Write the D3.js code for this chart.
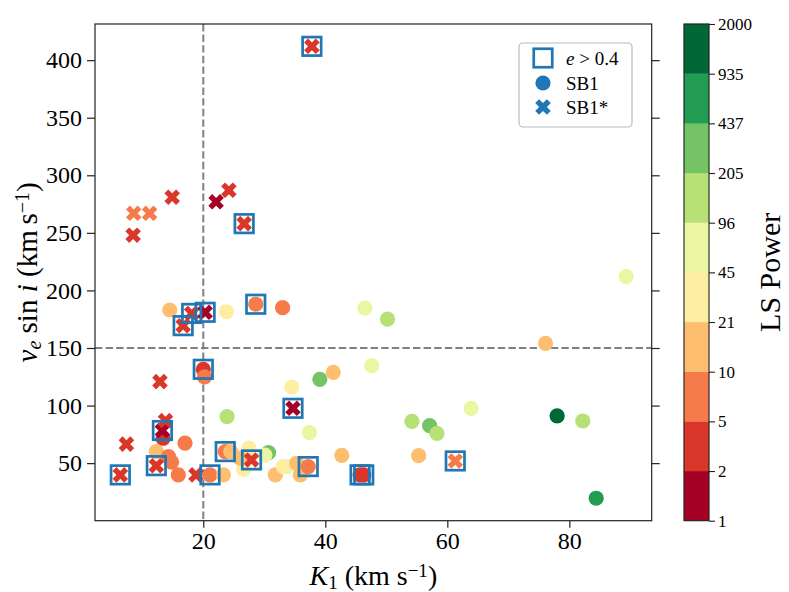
<!DOCTYPE html>
<html><head><meta charset="utf-8">
<script src="https://cdn.jsdelivr.net/npm/d3@7"></script>
<style>
body{margin:0;background:#fff;}
svg{display:block;}
text{font-family:"Liberation Serif","Times New Roman",serif;fill:#000;}
</style></head>
<body>
<svg id="chart" width="789" height="592"></svg>
<script>
// ---- Data ----
// SB1 (circles)
const sb1K     = [20.0,20.2,14.5,28.6,33.0,23.8,46.5,50.2,89.3,76.1,34.5,47.6,41.3,39.1,23.9,37.4,63.9,54.2,57.1,58.3,78.0,82.2,84.4,13.4,17.0,12.3,14.3,14.8,15.9,21.1,23.3,23.6,24.5,27.5,26.6,26.0,30.7,30.1,31.8,33.7,33.1,35.9,35.3,37.2,42.7,55.3,45.7,46.3];
const sb1V     = [131.5,125,183,188,185,181.5,184.7,175,212,154,116,134.6,128.9,122.8,90.5,76.5,97.6,86.3,82.5,75.9,91,86.6,19.5,71.6,67.3,60,55.7,50.8,39.8,39.8,39.8,60,60,63,44.5,54.3,59.1,57,39.8,47,47,39.8,49.9,47,56.8,56.5,39.8,39.8];
const sb1Power = [3,7,15,7,7,30,70,150,70,15,30,70,15,300,150,70,70,150,300,150,1500,150,700,3,7,15,7,7,7,7,15,7,15,30,30,15,300,70,15,70,30,15,15,7,15,15,3,3];
const sb1Ecc   = [1,0,0,1,0,0,0,0,0,0,0,0,0,0,0,0,0,0,0,0,0,0,0,0,0,0,0,0,0,1,0,1,0,0,0,0,0,0,0,0,0,0,0,1,0,0,1,1];
// SB1* (crosses)
const sb1sK     = [37.8,22.1,24.2,14.9,8.5,8.6,11.2,26.7,16.7,18.1,20.3,12.9,34.7,13.3,13.8,7.4,12.3,6.4,18.8,61.3,27.9];
const sb1sV     = [412,277,287,281,248,267,267,258,169.4,180,181,120.8,97.6,78.3,87,66.5,47.8,39.8,39.8,51.9,52.8];
const sb1sPower = [3,1.5,3,3,3,7,7,3,3,3,1.5,3,1.5,1.5,3,3,3,3,3,7,3];
const sb1sEcc   = [1,0,0,0,0,0,0,1,1,1,1,0,1,1,0,0,1,1,0,1,1];
// Colour bar boundaries (LS Power)
const lsBounds = [1,2,5,10,21,45,96,205,437,935,2000];
const xTicks = [20,40,60,80];
const yTicks = [50,100,150,200,250,300,350,400];
const xRef = 20, yRef = 150;

// ---- Layout ----
const svg = d3.select("#chart");
const L = 95, R = 651.7, T = 24, B = 520.7;
const x = d3.scaleLinear().domain([2.25, 93.5]).range([L, R]);
const y = d3.scaleLinear().domain([0, 431.4]).range([B, T]);

const brewer = ["#a50026","#d73027","#f46d43","#fdae61","#fee08b","#ffffbf","#d9ef8b","#a6d96a","#66bd63","#1a9850","#006837"];
const cmap = d3.scaleLinear().domain(d3.range(11).map(i => i/10)).range(brewer).interpolate(d3.interpolateRgb);
const binColors = d3.range(10).map(i => cmap(i/9));
const color = d3.scaleThreshold().domain(lsBounds.slice(1, -1)).range(binColors);

svg.append("defs").append("clipPath").attr("id","clip")
  .append("rect").attr("x",L).attr("y",T).attr("width",R-L).attr("height",B-T);

// Reference dashed lines
const g = svg.append("g").attr("clip-path","url(#clip)");
g.append("line").attr("x1",x(xRef)).attr("x2",x(xRef)).attr("y1",T).attr("y2",B)
  .attr("stroke","#808080").attr("stroke-width",2).attr("stroke-dasharray","7.4,3.2");
g.append("line").attr("x1",L).attr("x2",R).attr("y1",y(yRef)).attr("y2",y(yRef))
  .attr("stroke","#808080").attr("stroke-width",2).attr("stroke-dasharray","7.4,3.2");

// X marker path (matplotlib filled 'X')
function xPath(size){
  const pts = [[-1,-3],[1,-3],[1,-1],[3,-1],[3,1],[1,1],[1,3],[-1,3],[-1,1],[-3,1],[-3,-1],[-1,-1]];
  const c = Math.SQRT1_2, s = size/6;
  const p = d3.path();
  pts.forEach((q,i) => {
    const px = (q[0]*c - q[1]*c)*s, py = (q[0]*c + q[1]*c)*s;
    if(i===0) p.moveTo(px,py); else p.lineTo(px,py);
  });
  p.closePath();
  return p.toString();
}
const XSIZE = 16.5, CR = 7.6, SQ = 18.5;

const circ = sb1K.map((k,i) => ({k, v:sb1V[i], p:sb1Power[i], e:sb1Ecc[i]}));
const crs  = sb1sK.map((k,i) => ({k, v:sb1sV[i], p:sb1sPower[i], e:sb1sEcc[i]}));

g.selectAll("circle.sb1").data(circ).join("circle").attr("class","sb1")
  .attr("cx", d => x(d.k)).attr("cy", d => y(d.v)).attr("r", CR)
  .attr("fill", d => color(d.p));
g.selectAll("path.sb1s").data(crs).join("path").attr("class","sb1s")
  .attr("d", xPath(XSIZE))
  .attr("transform", d => `translate(${x(d.k)},${y(d.v)})`)
  .attr("fill", d => color(d.p));
const ecc = circ.filter(d => d.e).concat(crs.filter(d => d.e));
g.selectAll("rect.ecc").data(ecc).join("rect").attr("class","ecc")
  .attr("x", d => x(d.k)-SQ/2).attr("y", d => y(d.v)-SQ/2)
  .attr("width", SQ).attr("height", SQ)
  .attr("fill","none").attr("stroke","#1f77b4").attr("stroke-width",2.7);

// Axes
const FONT = '"Liberation Serif",serif';
const xAxis = svg.append("g").attr("transform",`translate(0,${B})`)
  .call(d3.axisBottom(x).tickValues(xTicks).tickSize(7).tickPadding(4).tickFormat(d3.format("d")));
const yAxis = svg.append("g").attr("transform",`translate(${L},0)`)
  .call(d3.axisLeft(y).tickValues(yTicks).tickSize(8).tickPadding(5).tickFormat(d3.format("d")));
const yAxisR = svg.append("g").attr("transform",`translate(${R},0)`)
  .call(d3.axisRight(y).tickValues(yTicks).tickSize(8).tickFormat(""));
[xAxis,yAxis,yAxisR].forEach(a => {
  a.attr("font-family", FONT);
  a.select(".domain").remove();
  a.selectAll(".tick line").attr("stroke","#222").attr("stroke-width",1.2);
  a.selectAll(".tick text").style("font-family",FONT).style("font-size","24px").attr("fill","#000");
});
svg.append("rect").attr("x",L).attr("y",T).attr("width",R-L).attr("height",B-T)
  .attr("fill","none").attr("stroke","#222").attr("stroke-width",1.2);

// Axis labels
const xl = svg.append("text").attr("x",(L+R)/2).attr("y",585).attr("text-anchor","middle").style("font-size","28px");
xl.append("tspan").attr("font-style","italic").text("K");
xl.append("tspan").attr("baseline-shift","-22%").style("font-size","19px").text("1");
xl.append("tspan").text(" (km s");
xl.append("tspan").attr("baseline-shift","42%").style("font-size","19px").text("\u22121");
xl.append("tspan").text(")");

const yl = svg.append("text").attr("transform",`translate(37,${(T+B)/2}) rotate(-90)`).attr("text-anchor","middle").style("font-size","29px");
yl.append("tspan").attr("font-style","italic").text("v");
yl.append("tspan").attr("font-style","italic").attr("baseline-shift","-22%").style("font-size","20px").text("e");
yl.append("tspan").text(" sin ");
yl.append("tspan").attr("font-style","italic").text("i");
yl.append("tspan").text(" (km\u2009s");
yl.append("tspan").attr("baseline-shift","42%").style("font-size","20px").text("\u22121");
yl.append("tspan").text(")");

// Legend
const lg = svg.append("g");
lg.append("rect").attr("x",519).attr("y",43).attr("width",113).attr("height",84).attr("rx",4)
  .attr("fill","#fff").attr("fill-opacity",0.8).attr("stroke","#bbb").attr("stroke-width",1.2);
const legY = [58, 83, 107], legX = 543, legTX = 566;
lg.append("rect").attr("x",legX-SQ/2).attr("y",legY[0]-SQ/2).attr("width",SQ).attr("height",SQ)
  .attr("fill","none").attr("stroke","#1f77b4").attr("stroke-width",2.7);
lg.append("circle").attr("cx",legX).attr("cy",legY[1]).attr("r",CR).attr("fill","#1f77b4");
lg.append("path").attr("d",xPath(XSIZE)).attr("transform",`translate(${legX},${legY[2]})`).attr("fill","#1f77b4");
const t1 = lg.append("text").attr("x",legTX).attr("y",legY[0]+6.5).style("font-size","19px");
t1.append("tspan").attr("font-style","italic").text("e");
t1.append("tspan").text(" > 0.4");
lg.append("text").attr("x",legTX).attr("y",legY[1]+6.5).style("font-size","19px").text("SB1");
lg.append("text").attr("x",legTX).attr("y",legY[2]+6.5).style("font-size","19px").text("SB1*");

// Colour bar
const cbL = 684, cbW = 25;
const cbY = d3.scalePoint().domain(lsBounds).range([B, T]);
const cb = svg.append("g");
cb.selectAll("rect.bin").data(d3.range(10)).join("rect").attr("class","bin")
  .attr("x",cbL).attr("width",cbW)
  .attr("y", i => cbY(lsBounds[i+1])).attr("height", i => cbY(lsBounds[i]) - cbY(lsBounds[i+1]))
  .attr("fill", i => binColors[i]).attr("stroke", i => binColors[i]).attr("stroke-width",0.3);
const cbAxis = svg.append("g").attr("transform",`translate(${cbL+cbW},0)`)
  .call(d3.axisRight(cbY).tickSize(6).tickPadding(3));
cbAxis.attr("font-family", FONT);
cbAxis.select(".domain").remove();
cbAxis.selectAll(".tick line").attr("stroke","#222").attr("stroke-width",1.1);
cbAxis.selectAll(".tick text").style("font-family",FONT).style("font-size","17px").attr("fill","#000");
svg.append("rect").attr("x",cbL).attr("y",T).attr("width",cbW).attr("height",B-T)
  .attr("fill","none").attr("stroke","#222").attr("stroke-width",1.1);
svg.append("text").attr("transform",`translate(780,${(T+B)/2}) rotate(-90)`).attr("text-anchor","middle")
  .style("font-size","30px").text("LS Power");
</script>
</body></html>
